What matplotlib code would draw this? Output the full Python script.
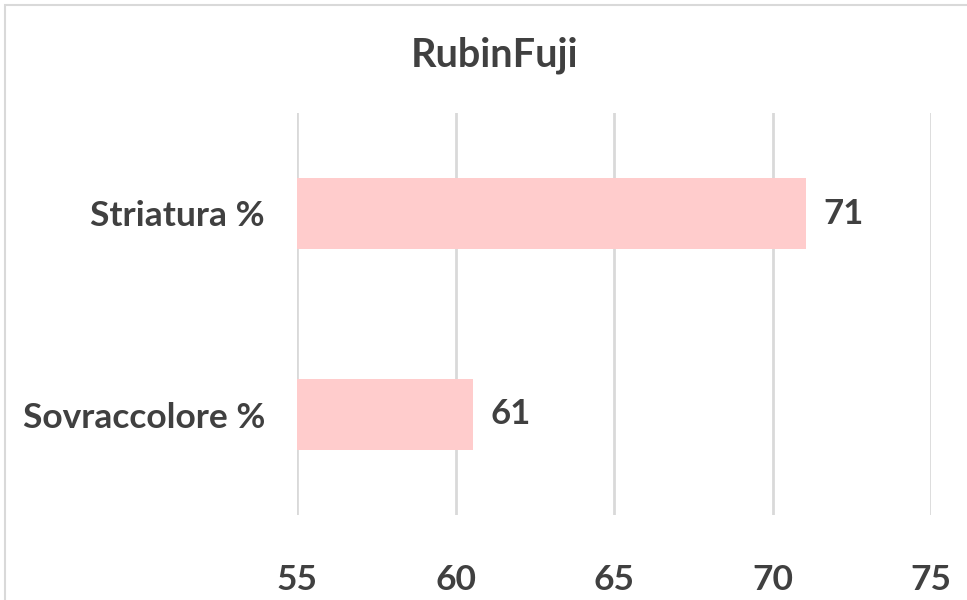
import matplotlib
matplotlib.use('Agg')
import matplotlib.pyplot as plt
from matplotlib.patches import Rectangle

# Data
categories = ['Sovraccolore %', 'Striatura %']
values = [60.55, 71.05]
labels = ['61', '71']
xticks = [55, 60, 65, 70, 75]

text_color = '#404040'
grid_color = '#D9D9D9'
bar_color = '#FFCCCC'

plt.rcParams['font.family'] = ['Lato', 'DejaVu Sans']
plt.rcParams['font.weight'] = 'bold'

fig = plt.figure(figsize=(9.67, 6), dpi=100)
ax = fig.add_axes([297 / 967, 1 - 515 / 600, (931 - 297) / 967, (515 - 113) / 600])

ypos = list(range(len(categories)))
ax.barh(ypos, [v - 55 for v in values], left=55, height=0.356, color=bar_color, zorder=2)

for y, v, lab in zip(ypos, values, labels):
    ax.text(v + 0.55, y, lab, va='center', ha='left', fontsize=25,
            fontweight='bold', color=text_color)

ax.set_xlim(55, 75)
ax.set_ylim(-0.5, 1.5)
ax.set_xticks(xticks)
ax.set_xticklabels([str(t) for t in xticks])
ax.set_yticks(ypos)
ax.set_yticklabels(categories)

ax.grid(axis='x', color=grid_color, linewidth=2, zorder=0)
ax.set_axisbelow(True)
for s in ax.spines.values():
    s.set_visible(False)
ax.tick_params(axis='both', length=0, colors=text_color, labelsize=25.5)
ax.tick_params(axis='x', pad=35)
ax.tick_params(axis='y', pad=23)

fig.text(495 / 967, 1 - 55 / 600, 'RubinFuji', ha='center', va='center',
         fontsize=28.5, fontweight='bold', color=text_color)

# outer chart border
fig.patches.append(Rectangle((5 / 967, -0.1), 1.2, 0.1 + 595 / 600, transform=fig.transFigure,
                             fill=False, edgecolor=grid_color, linewidth=1.5))

fig.savefig('out.png', dpi=100)
